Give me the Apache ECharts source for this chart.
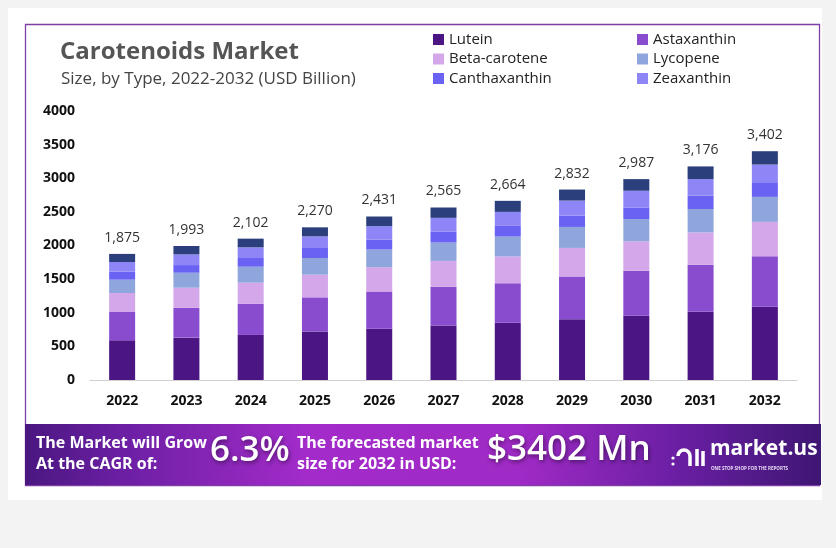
<!DOCTYPE html>
<html>
<head>
<meta charset="utf-8">
<script src="https://cdn.jsdelivr.net/npm/echarts@6/dist/echarts.min.js"></script>
<style>
html,body{margin:0;padding:0;background:#f3f3f3;}
#chart{width:836px;height:548px;}
</style>
</head>
<body>
<div id="chart"></div>
<script>
const years = ['2022','2023','2024','2025','2026','2027','2028','2029','2030','2031','2032'];
const totals = [1875,1993,2102,2270,2431,2565,2664,2832,2987,3176,3402];
const lutein        = [590,630,670,722,762,812,850,905,955,1014,1090];
const astaxanthin   = [421,445,465,507,553,572,589,633,670,700,750];
const betaCarotene  = [283,297,312,337,362,387,397,426,436,481,511];
const lycopene      = [198,223,238,248,263,273,297,312,332,347,372];
const canthaxanthin = [119,114,129,149,149,164,159,169,173,198,218];
const zeaxanthin    = [144,159,159,173,198,203,208,223,248,248,263];
const others        = [120,125,129,134,144,154,164,164,173,188,198];
const yTicks = [0,500,1000,1500,2000,2500,3000,3500,4000];

const seriesDefs = [
  ['Lutein', lutein, '#4b1684'],
  ['Astaxanthin', astaxanthin, '#8a4ccf'],
  ['Beta-carotene', betaCarotene, '#d4a6ea'],
  ['Lycopene', lycopene, '#8ea6dc'],
  ['Canthaxanthin', canthaxanthin, '#6a62f2'],
  ['Zeaxanthin', zeaxanthin, '#8e86f6'],
  ['Others', others, '#2a3f7c']
];

const FONT = '"Open Sans", "Noto Sans", sans-serif';

const series = seriesDefs.map(([name, data, color], i) => ({
  name, type: 'bar', stack: 'total', data, barWidth: 26,
  itemStyle: { color },
  emphasis: { disabled: true },
  label: i === seriesDefs.length - 1 ? {
    show: true, position: 'top', distance: 9,
    fontFamily: FONT, fontSize: 14, color: '#333',
    formatter: p => totals[p.dataIndex].toLocaleString('en-US')
  } : { show: false }
}));

const legendCommon = {
  orient: 'vertical', top: 27, itemWidth: 11, itemHeight: 11, itemGap: 4.5,
  icon: 'rect', selectedMode: false,
  textStyle: { fontFamily: FONT, fontSize: 15, color: '#222', lineHeight: 15 }
};

const chart = echarts.init(document.getElementById('chart'), null, { renderer: 'canvas' });
chart.setOption({
  backgroundColor: '#f3f3f3',
  animation: false,
  legend: [
    Object.assign({ left: 428, data: ['Lutein', 'Beta-carotene', 'Canthaxanthin'] }, legendCommon),
    Object.assign({ left: 632, data: ['Astaxanthin', 'Lycopene', 'Zeaxanthin'] }, legendCommon)
  ],
  grid: { left: 90, right: 39, top: 111, bottom: 168 },
  xAxis: {
    type: 'category', data: years,
    axisLine: { lineStyle: { color: '#d0d0d0' } },
    axisTick: { show: false },
    axisLabel: { fontFamily: FONT, fontSize: 14, fontWeight: 'bold', color: '#111', margin: 14 }
  },
  yAxis: {
    type: 'value', min: yTicks[0], max: yTicks[yTicks.length - 1], interval: 500,
    splitLine: { show: false },
    axisLine: { show: false }, axisTick: { show: false },
    axisLabel: { fontFamily: FONT, fontSize: 14, fontWeight: 'bold', color: '#111', margin: 15,
      formatter: v => String(v) }
  },
  graphic: [
    { type: 'rect', z: -20, silent: true, shape: { x: 8, y: 8, width: 814, height: 492 }, style: { fill: '#ffffff' } },
    { type: 'rect', z: -19, silent: true, shape: { x: 25.5, y: 24.5, width: 794, height: 461 }, style: { fill: '#ffffff', stroke: '#7d3fa3', lineWidth: 1.3 } },
    { type: 'text', z: 5, left: 60, top: 40, style: { text: 'Carotenoids Market', fontFamily: FONT, fontSize: 24, fontWeight: 'bold', fill: '#555555' } },
    { type: 'text', z: 5, left: 61, top: 71, style: { text: 'Size, by Type, 2022-2032 (USD Billion)', fontFamily: FONT, fontSize: 17, fill: '#444444' } },
    { type: 'rect', z: 3, silent: true, shape: { x: 25, y: 424, width: 796, height: 61 },
      style: { fill: new echarts.graphic.LinearGradient(0, 0, 1, 0, [
        { offset: 0, color: '#4a1780' },
        { offset: 0.12, color: '#6b1fa3' },
        { offset: 0.35, color: '#a22bc9' },
        { offset: 0.62, color: '#a02ac6' },
        { offset: 0.82, color: '#6a1fa3' },
        { offset: 1, color: '#3e1673' }
      ]) } },
    { type: 'text', z: 5, left: 36, top: 433, style: { text: 'The Market will Grow\nAt the CAGR of:', fontFamily: FONT, fontSize: 16, fontWeight: 'bold', fill: '#ffffff', lineHeight: 21 } },
    { type: 'text', z: 5, left: 210, top: 434, style: { text: '6.3%', fontFamily: FONT, fontSize: 35, fontWeight: 600, fill: '#ffffff', textShadowColor: 'rgba(0,0,0,0.45)', textShadowBlur: 4, textShadowOffsetX: 1, textShadowOffsetY: 2 } },
    { type: 'text', z: 5, left: 297, top: 433, style: { text: 'The forecasted market\nsize for 2032 in USD:', fontFamily: FONT, fontSize: 16, fontWeight: 'bold', fill: '#ffffff', lineHeight: 21 } },
    { type: 'text', z: 5, left: 487, top: 433, style: { text: '$3402 Mn', fontFamily: FONT, fontSize: 35, fontWeight: 600, fill: '#ffffff', textShadowColor: 'rgba(0,0,0,0.45)', textShadowBlur: 4, textShadowOffsetX: 1, textShadowOffsetY: 2 } },
    { type: 'arc', z: 5, shape: { cx: 684, cy: 456, r: 6, startAngle: Math.PI, endAngle: 0, clockwise: true }, style: { stroke: '#ffffff', lineWidth: 3.5, fill: null } },
    { type: 'line', z: 5, shape: { x1: 690, y1: 456, x2: 690, y2: 466 }, style: { stroke: '#ffffff', lineWidth: 3.5 } },
    { type: 'line', z: 5, shape: { x1: 697, y1: 449, x2: 697, y2: 466 }, style: { stroke: '#ffffff', lineWidth: 3.5 } },
    { type: 'line', z: 5, shape: { x1: 703, y1: 451, x2: 703, y2: 466 }, style: { stroke: '#ffffff', lineWidth: 3.5 } },
    { type: 'circle', z: 5, shape: { cx: 673, cy: 458, r: 1.6 }, style: { fill: '#ffffff' } },
    { type: 'circle', z: 5, shape: { cx: 673, cy: 464, r: 1.6 }, style: { fill: '#ffffff' } },
    { type: 'text', z: 5, left: 710, top: 439, style: { text: 'market.us', fontFamily: FONT, fontSize: 21, fontWeight: 'bold', fill: '#ffffff' } },
    { type: 'text', z: 5, left: 711, top: 466, style: { text: 'ONE STOP SHOP FOR THE REPORTS', fontFamily: FONT, fontSize: 4.5, fontWeight: 'bold', fill: '#e8dcf5' } }
  ],
  series
});
</script>
</body>
</html>
